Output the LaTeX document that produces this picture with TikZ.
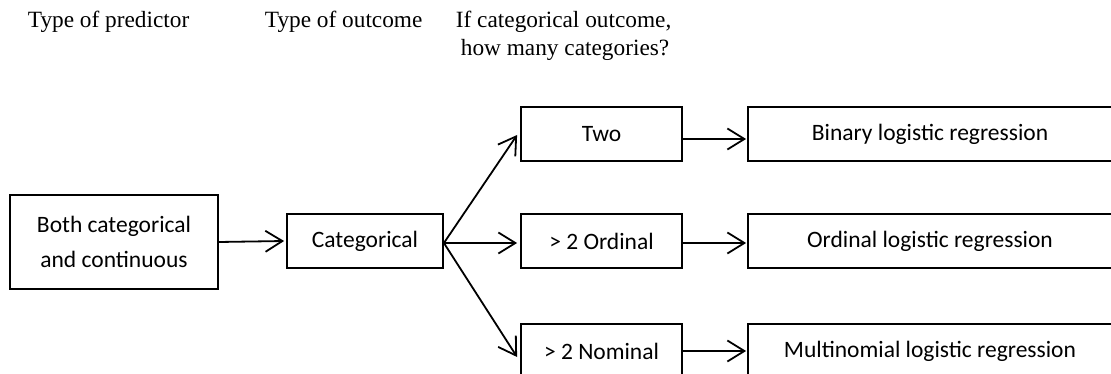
\documentclass[tikz,border=0pt]{standalone}
\usepackage{fontspec}
\setmainfont{Liberation Serif}
\newfontfamily\boxfont{Carlito}
\usetikzlibrary{arrows.meta,calc}

\begin{document}
\begin{tikzpicture}[x=1pt,y=-1pt,
  line width=1.8pt,
  stepbox/.style={draw=black, line width=1.8pt, inner sep=0pt, align=center,
    font=\boxfont\fontsize{23.5}{35}\selectfont},
  head/.style={inner sep=0pt, anchor=base west, font=\fontsize{23.3}{28}\selectfont},
  flow/.style={-{Straight Barb[length=17pt,width=21pt,line width=1.8pt]}, line width=1.8pt}
]
\useasboundingbox (0,0) rectangle (1111,374);
\clip (0,0) rectangle (1111,374);

% column headings
\node[head] (h1) at (27,28) {Type of predictor};
\node[head] (h2) at (264,28) {Type of outcome};
\node[head] (h3) at (455,28) {If categorical outcome,};
\node[head] (h4) at (460,56) {how many categories?};

% boxes
\node[stepbox, minimum width=208pt, minimum height=94pt] (both) at (114,242) {Both categorical\\and continuous};
\node[stepbox, minimum width=156pt, minimum height=54pt] (cat) at (365,241) {Categorical};
\node[stepbox, minimum width=161pt, minimum height=54pt] (two) at (601.5,134) {Two};
\node[stepbox, minimum width=161pt, minimum height=54pt] (ord) at (601.5,241) {\textgreater{} 2 Ordinal};
\node[stepbox, minimum width=161pt, minimum height=54pt] (nom) at (601.5,351) {\textgreater{} 2 Nominal};
\node[stepbox, minimum width=364pt, minimum height=54pt] (bin) at (930,134) {Binary logistic regression};
\node[stepbox, minimum width=364pt, minimum height=54pt] (olr) at (930,241) {Ordinal logistic regression};
\node[stepbox, minimum width=364pt, minimum height=54pt] (mlr) at (930,351) {Multinomial logistic regression};

% connectors
\draw[flow] (both.east) -- ([xshift=-2pt]cat.west);
\coordinate (fan) at ([yshift=-2pt]cat.east);
\draw[flow] (fan) -- ([xshift=-3pt,yshift=-1pt]two.west);
\draw[flow] (fan) -- ([xshift=-3pt,yshift=-2pt]ord.west);
\draw[flow] (fan) -- ([xshift=-3pt,yshift=-6pt]nom.west);
\draw[flow] ([yshift=-5pt]two.east) -- ([xshift=-1pt,yshift=-5pt]bin.west);
\draw[flow] ([yshift=-2pt]ord.east) -- ([xshift=-1pt,yshift=-2pt]olr.west);
\draw[flow] (nom.east) -- ([xshift=-1pt]mlr.west);
\end{tikzpicture}
\end{document}
